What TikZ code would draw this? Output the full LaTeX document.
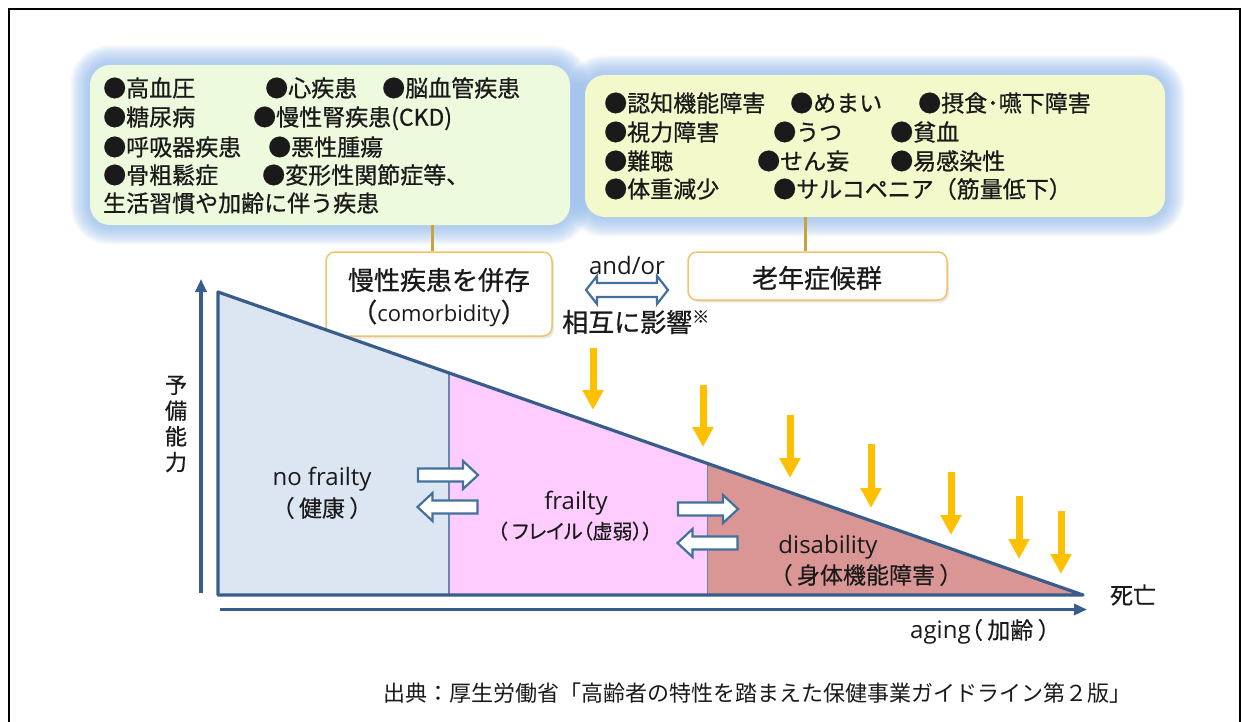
\documentclass[tikz,border=0pt]{standalone}
\usepackage{fontspec}
\setmainfont{Noto Sans CJK JP}[FakeBold=0.7]
\newfontfamily\lat{Open Sans}
\newfontfamily\jpp{Noto Sans CJK JP}[RawFeature=+palt,FakeBold=0.4]
\newfontfamily\srcf{Noto Sans CJK JP}
\usetikzlibrary{arrows.meta,shadows}
\pgfdeclarelayer{bg}
\pgfsetlayers{bg,main}
\definecolor{axisblue}{HTML}{385D8A}
\definecolor{divblue}{HTML}{6A86B0}
\definecolor{regblue}{HTML}{DCE6F2}
\definecolor{regpink}{HTML}{FFCCFF}
\definecolor{regred}{HTML}{D99694}
\definecolor{orangeA}{HTML}{FFC000}
\definecolor{arrowblue}{HTML}{41719C}
\definecolor{glowc}{HTML}{93BBEE}
\definecolor{lboxfill}{HTML}{EEFADD}
\definecolor{rboxfill}{HTML}{F3F9CB}
\definecolor{midborder}{HTML}{F2C46A}
\definecolor{connc}{HTML}{C9A23A}
\definecolor{txt}{HTML}{1A1A1A}
\newcommand\fsBox{\fontsize{23pt}{27pt}\selectfont}
\newcommand\fsMid{\fontsize{26pt}{30pt}\selectfont}
\newcommand\fsLab{\fontsize{23pt}{27pt}\selectfont\jpp}
\newcommand\fsLat{\fontsize{24pt}{28pt}\selectfont\lat}
\begin{document}
\begin{tikzpicture}[x=1pt,y=-1pt,
  item/.style={anchor=west, inner sep=0pt, font=\fsBox, text=txt, text height=20.2pt, text depth=2.8pt},
  mid/.style={inner sep=0pt, font=\fsMid, text=txt, text height=22.9pt, text depth=3.1pt},
  lab/.style={inner sep=0pt, font=\fsLab, text=txt, text height=20.2pt, text depth=2.8pt},
  latl/.style={inner sep=0pt, font=\fsLat, text=txt, text height=18pt, text depth=4.8pt},
  glowbox/.style={rounded corners=20pt, inner sep=0pt},
  midbox/.style={draw=midborder, line width=1.5pt, fill=white, rounded corners=9pt, inner sep=0pt,
     drop shadow={opacity=0.18, shadow xshift=2pt, shadow yshift=-2.5pt}},
  conn/.style={draw=connc, line width=3pt},
  axis/.style={draw=axisblue, line width=3.5pt, -{Triangle[length=13pt,width=11pt]}},
  oarrow/.style={draw=orangeA, line width=7pt, -{Triangle[length=20pt,width=20pt]}},
  bar/.style={draw=arrowblue, line width=2.2pt, fill=white, line join=miter},
  barR/.pic={\draw[bar] (-30,-6.5) -- (15,-6.5) -- (15,-14) -- (30,0) -- (15,14) -- (15,6.5) -- (-30,6.5) -- cycle;}
]
\useasboundingbox (0,0) rectangle (1241,722);

% top boxes
\node[glowbox, fill=lboxfill, minimum width=480pt, minimum height=160pt] (lbox) at (330,145) {};
\node[glowbox, fill=rboxfill, minimum width=580pt, minimum height=142pt] (rbox) at (875,146) {};
\begin{pgfonlayer}{bg}
\fill[white] (0,0) rectangle (1241,722);
\foreach \w in {3,6,...,39}{
  \draw[glowc, line width=\w pt, opacity=0.085, rounded corners=20pt] (lbox.north west) rectangle (lbox.south east);
  \draw[glowc, line width=\w pt, opacity=0.085, rounded corners=20pt] (rbox.north west) rectangle (rbox.south east);
}
\end{pgfonlayer}
% frame
\draw[black, line width=2.2pt] (8.7,760) -- (8.7,9) -- (1240,9) -- (1240,760);

% left box items
\node[item] (l11) at (103,88) {●高血圧};
\node[item] (l12) at (265,88) {●心疾患};
\node[item] (l13) at (382,88) {●脳血管疾患};
\node[item] (l21) at (103,117) {●糖尿病};
\node[item] (l22) at (253,117) {●慢性腎疾患(CKD)};
\node[item] (l31) at (103,147) {●呼吸器疾患};
\node[item] (l32) at (268,147) {●悪性腫瘍};
\node[item] (l41) at (103,175) {●骨粗鬆症};
\node[item] (l42) at (262,175) {●変形性関節症等、};
\node[item] (l51) at (103,203) {生活習慣や加齢に伴う疾患};

% right box items
\node[item] (r11) at (604,103) {●認知機能障害};
\node[item] (r12) at (790,103) {●めまい};
\node[item] (r13) at (918,103) {●摂食･嚥下障害};
\node[item] (r21) at (604,132) {●視力障害};
\node[item] (r22) at (773,132) {●うつ};
\node[item] (r23) at (890,132) {●貧血};
\node[item] (r31) at (604,161) {●難聴};
\node[item] (r32) at (757,161) {●せん妄};
\node[item] (r33) at (890,161) {●易感染性};
\node[item] (r41) at (604,189) {●体重減少};
\node[item] (r42) at (773,189) {●サルコペニア（筋量低下）};

% middle boxes
\node[midbox, minimum width=226pt, minimum height=84pt] (como) at (439,294) {};
\node[midbox, minimum width=259pt, minimum height=48pt] (roun) at (817.5,276) {};
\node[mid] (como1) at (439,280) {慢性疾患を併存};
\node[mid] (como2) at (439,312) {（{\lat\fontsize{22pt}{26pt}\selectfont comorbidity}）};
\node[mid] (roun1) at (817,278) {老年症候群};
\draw[conn] ([xshift=-7pt]como.north) -- ([xshift=-7pt]como.north |- lbox.south);
\draw[conn] ([xshift=-12.5pt]roun.north) -- ([xshift=-12.5pt]roun.north |- rbox.south);

% and/or double arrow
\draw[bar] (586,290) -- (597,276) -- (597,283) -- (657,283) -- (657,276) -- (668,290)
  -- (657,304) -- (657,297) -- (597,297) -- (597,304) -- cycle;
\node[latl] (andor) at (627,268) {and/or};
\node[mid, anchor=west] (mutual) at (562,322) {相互に影響\raisebox{9pt}{\fontsize{17pt}{17pt}\selectfont ※}};

% triangle regions
\coordinate (TL) at (218,292);
\coordinate (BL) at (218,595);
\coordinate (T) at (1083,595);
\coordinate (D1t) at (449,372.6);
\coordinate (D1b) at (449,595);
\coordinate (D2t) at (707.6,463);
\coordinate (D2b) at (707.6,595);
\fill[regblue] (TL) -- (D1t) -- (D1b) -- (BL) -- cycle;
\fill[regpink] (D1t) -- (D2t) -- (D2b) -- (D1b) -- cycle;
\fill[regred] (D2t) -- (T) -- (D2b) -- cycle;
\draw[divblue, line width=1.5pt] (D1t) -- (D1b);
\draw[divblue, line width=1.5pt] (D2t) -- (D2b);
\draw[axisblue, line width=3.2pt, line join=round] (BL) -- (TL) -- (T) -- cycle;

% axes
\coordinate (yb) at (201,593);
\coordinate (yt) at (201,279);
\draw[axis] (yb) -- (yt);
\coordinate (xl) at (220,609.5);
\coordinate (xr) at (1087,609.5);
\draw[axis] (xl) -- (xr);

% block arrows
\pic at (448,475) {barR};
\pic[xscale=-1] at (447.5,507) {barR};
\pic at (708,509) {barR};
\pic[xscale=-1] at (707.5,543) {barR};

% orange arrows
\foreach \n/\x/\a/\b in {1/593/348/410, 2/703/385/447, 3/790/415/478, 4/871/444/508, 5/951/472/535, 6/1019/496/559, 7/1061/511/574}{
  \coordinate (o\n t) at (\x,\a);
  \coordinate (o\n b) at (\x,\b);
  \draw[oarrow] (o\n t) -- (o\n b);
}

% labels
\node[latl] (nf1) at (322,479) {no frailty};
\node[lab] (nf2) at (322,508) {（ 健康 ）};
\node[latl] (fr1) at (576,503) {frailty};
\node[lab, font=\fontsize{20pt}{24pt}\selectfont\jpp] (fr2) at (575,530) {（ フレイル（虚弱））};
\node[latl] (di1) at (828,547) {disability};
\node[lab] (di2) at (866,575) {（ 身体機能障害 ）};
\node[lab] (death) at (1133,595) {死亡};
\node[lab, anchor=west] (aging) at (910,630) {{\lat\fontsize{24pt}{28pt}\selectfont aging}（ 加齢 ）};
\node[inner sep=0pt, font=\fontsize{22pt}{25.7pt}\selectfont, text=txt, align=center] (ylab) at (176,424) {予\\備\\能\\力};

% source
\node[item, font=\fontsize{22pt}{26pt}\selectfont\srcf, text height=19.4pt, text depth=2.6pt] (src) at (383,693) {出典：厚生労働省「高齢者の特性を踏まえた保健事業ガイドライン第２版」};
\end{tikzpicture}
\end{document}
